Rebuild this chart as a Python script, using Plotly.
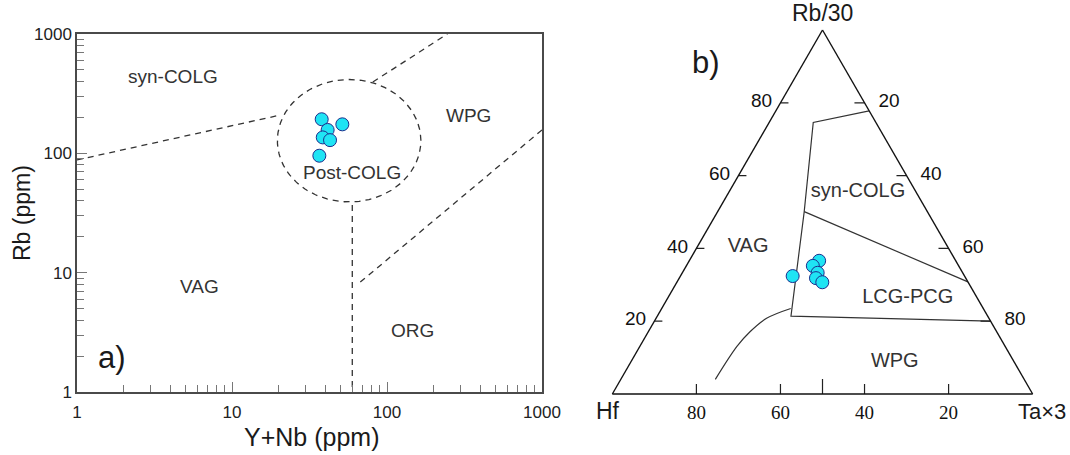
import numpy as np
import plotly.graph_objects as go

SANS = "Liberation Sans, Arial, sans-serif"
SERIF = "Liberation Serif, Times New Roman, serif"
DOT_FILL = "#1FE4F4"
DOT_EDGE = "#1C2E8C"
FIELD_LINE = "#333333"

# ---------------- (a) Rb vs Y+Nb (ppm) ----------------
ynb = [37.9, 51.5, 41.4, 38.5, 42.9, 36.6]
rb = [193, 175, 157, 136, 129, 95.5]

# discrimination field boundaries, ppm
syn_colg_x = [1, 20.4]
syn_colg_y = [88, 209]
wpg_upper_x = [81, 245]
wpg_upper_y = [396, 1000]
wpg_org_x = [1000, 67]
wpg_org_y = [157, 8.3]
vag_org_x = [59.7, 59.7]
vag_org_y = [36.9, 1]
post_colg_centre = (57.0, 127.6)      # ppm
post_colg_radius = (0.463, 0.513)     # in decades (x, y)

field_labels_a = ["syn-COLG", "WPG", "Post-COLG", "VAG", "ORG"]
field_x_a = [4.16, 338, 59.5, 6.2, 147]
field_y_a = [437, 206, 69.7, 7.7, 3.3]

# ---------------- (b) Hf - Rb/30 - Ta×3 ----------------
t_rb = [32.4, 36.6, 35.2, 33.3, 31.8, 30.7]
t_hf = [40.9, 32.5, 34.7, 34.5, 35.6, 34.7]
t_ta = [26.7, 30.9, 30.1, 32.2, 32.5, 34.6]

# field boundaries (Rb/30, Hf, Ta×3)
outline_rb = [77.8, 74.6, 50.1, 21.4, 20.0]
outline_hf = [0.0, 14.9, 29.3, 46.8, 0.0]
outline_ta = [22.2, 10.5, 20.6, 31.8, 80.0]
diag_rb = [50.1, 30.8]
diag_hf = [29.3, 0.0]
diag_ta = [20.6, 69.2]
curve_rb = [23.5, 20.8, 17.1, 12.6, 4.0]
curve_hf = [45.8, 52.9, 58.7, 61.2, 73.5]
curve_ta = [30.7, 26.3, 24.2, 22.2, 22.5]

field_labels_b = ["syn-COLG", "VAG", "LCG-PCG", "WPG"]
field_rb_b = [55.5, 40.4, 26.4, 8.8]
field_hf_b = [13.8, 47.5, 16.5, 28.4]
field_ta_b = [30.7, 12.1, 57.1, 62.8]

tern_ticks = [20, 40, 60, 80]
bottom_mid_tick = 50

fig = go.Figure()

# ---- panel (a) ----
dash = dict(color=FIELD_LINE, width=1.3, dash="6px,5px")
for xs, ys in [(syn_colg_x, syn_colg_y), (wpg_upper_x, wpg_upper_y),
               (wpg_org_x, wpg_org_y), (vag_org_x, vag_org_y)]:
    fig.add_trace(go.Scatter(x=xs, y=ys, mode="lines", line=dash,
                             hoverinfo="skip", xaxis="x", yaxis="y"))

theta = np.linspace(0, 2 * np.pi, 181)
ex = 10 ** (np.log10(post_colg_centre[0]) + post_colg_radius[0] * np.cos(theta))
ey = 10 ** (np.log10(post_colg_centre[1]) + post_colg_radius[1] * np.sin(theta))
fig.add_trace(go.Scatter(x=ex, y=ey, mode="lines", line=dash,
                         hoverinfo="skip", xaxis="x", yaxis="y"))

fig.add_trace(go.Scatter(
    x=ynb, y=rb, mode="markers", xaxis="x", yaxis="y",
    marker=dict(size=13, color=DOT_FILL, line=dict(color=DOT_EDGE, width=1)),
))

for t, xv, yv in zip(field_labels_a, field_x_a, field_y_a):
    fig.add_annotation(x=np.log10(xv), y=np.log10(yv), xref="x", yref="y",
                       text=t, showarrow=False,
                       font=dict(family=SANS, size=19, color="#333"))

# ---- panel (b) ----
def tern_line(a, b, c, width=1.2):
    return go.Scatterternary(a=a, b=b, c=c, mode="lines", hoverinfo="skip",
                             line=dict(color=FIELD_LINE, width=width))

fig.add_trace(tern_line(outline_rb, outline_hf, outline_ta))
fig.add_trace(tern_line(diag_rb, diag_hf, diag_ta))
fig.add_trace(go.Scatterternary(a=curve_rb, b=curve_hf, c=curve_ta, mode="lines",
                                hoverinfo="skip",
                                line=dict(color=FIELD_LINE, width=1.2, shape="spline")))

# tick marks drawn inward: horizontal on the sides, vertical on the base
side_in = 1.9      # % of Ta×3 for ~8 px
right_in = 2.4
up_short = 2.75
up_long = 4.1
ta_, tb_, tc_ = [], [], []
for v in tern_ticks:
    ta_ += [v, v, None]
    tb_ += [100 - v, 100 - v - side_in, None]
    tc_ += [0, side_in, None]
    ta_ += [100 - v, 100 - v, None]
    tb_ += [0, right_in, None]
    tc_ += [v, v - right_in, None]
for v, h in [(t, up_short) for t in tern_ticks] + [(bottom_mid_tick, up_long)]:
    ta_ += [0, h, None]
    tb_ += [v, v - h / 2, None]
    tc_ += [100 - v, 100 - v - h / 2, None]
fig.add_trace(go.Scatterternary(a=ta_, b=tb_, c=tc_, mode="lines", hoverinfo="skip",
                                cliponaxis=False,
                                line=dict(color="#222", width=1.2)))

fig.add_trace(go.Scatterternary(
    a=field_rb_b, b=field_hf_b, c=field_ta_b, mode="text", text=field_labels_b,
    textposition="middle center", hoverinfo="skip",
    textfont=dict(family=SANS, size=20, color="#333"),
))

fig.add_trace(go.Scatterternary(
    a=t_rb, b=t_hf, c=t_ta, mode="markers",
    marker=dict(size=13, color=DOT_FILL, line=dict(color=DOT_EDGE, width=1)),
))

# panel letters, axis titles and vertex names
for t, x, y, s, ang in [("a)", 112, 357, 31, 0), ("b)", 706, 63, 31, 0),
                        ("Y+Nb (ppm)", 311, 437, 25, 0),
                        ("Rb (ppm)", 22, 213, 23, -90),
                        ("Rb/30", 822, 13, 23, 0), ("Hf", 608, 411, 23, 0),
                        ("Ta×3", 1042, 411, 22, 0)]:
    fig.add_annotation(x=x / 1070, y=1 - y / 455, xref="paper", yref="paper",
                       xanchor="center", yanchor="middle", textangle=ang,
                       text=t, showarrow=False,
                       font=dict(family=SANS, size=s, color="#1a1a1a"))

axis_common = dict(
    type="log", range=[0, 3], showgrid=False, zeroline=False, automargin=False,
    showline=True, linecolor="#4a4a4a", linewidth=1.5, mirror=True,
    ticks="inside", ticklen=10, tickcolor="#777", tickwidth=1,
    tickvals=[1, 10, 100, 1000], ticktext=["1", "10", "100", "1000"],
    minor=dict(ticks="inside", ticklen=7, tickcolor="#777", tickwidth=1,
               tickvals=[k * 10 ** d for d in range(3) for k in range(2, 10)]),
    tickfont=dict(family=SANS, size=17, color="#222"),
)

tern_axis = dict(showgrid=False, linecolor="#111", linewidth=1.4,
                 title=dict(text=""),
                 ticks="outside", ticklen=5, tickcolor="rgba(0,0,0,0)",
                 tickvals=tern_ticks, ticktext=[str(v) for v in tern_ticks])

fig.update_layout(
    width=1070, height=455, margin=dict(l=0, r=0, t=0, b=0, autoexpand=False),
    paper_bgcolor="white", plot_bgcolor="white", showlegend=False,
    xaxis=dict(axis_common, domain=[77 / 1070, 542 / 1070], anchor="y",
               ticklabelstandoff=4),
    yaxis=dict(axis_common, domain=[63 / 455, 421 / 455], anchor="x"),
    ternary=dict(
        domain=dict(x=[600 / 1070, 1045 / 1070], y=[61 / 455, 425 / 455]),
        sum=100, bgcolor="white",
        aaxis=dict(tern_axis, tickfont=dict(family=SANS, size=19, color="#111")),
        baxis=dict(tern_axis, ticklen=0,
                   tickfont=dict(family=SERIF, size=19, color="#111")),
        caxis=dict(tern_axis, ticklen=0,
                   ticktext=["\u00a0\u00a0" + str(v) for v in tern_ticks],
                   tickfont=dict(family=SANS, size=19, color="#111")),
    ),
)

fig.write_html("out.html")
